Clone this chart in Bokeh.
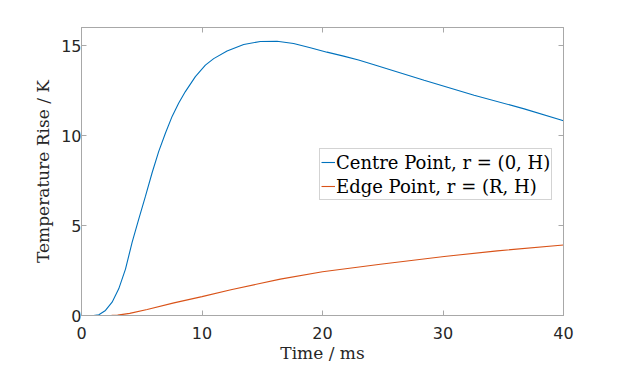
from bokeh.plotting import figure
from bokeh.models import (Range1d, FixedTicker, LinearAxis, CustomJSTickFormatter,
                          Legend, LegendItem)
from bokeh.embed import file_html
from bokeh.resources import INLINE

# ---- data ----
time_centre = [0, 1.0, 1.44, 1.99, 2.54, 3.09, 3.65, 4.20, 4.75, 5.31, 5.86, 6.41, 6.97,
               7.52, 8.07, 8.62, 9.45, 10.28, 10.97, 12.08, 13.46, 14.84, 16.23, 17.6,
               18.99, 20.37, 21.75, 22.99, 24.28, 28.43, 32.58, 36.74, 40]
temp_centre = [0, 0, 0.04, 0.28, 0.74, 1.48, 2.58, 4.06, 5.35, 6.63, 7.93, 9.12, 10.14,
               11.06, 11.80, 12.44, 13.27, 13.91, 14.27, 14.69, 15.06, 15.22, 15.24, 15.11,
               14.87, 14.63, 14.41, 14.19, 13.93, 13.07, 12.24, 11.48, 10.82]

time_edge = [0, 1.5, 2.5, 3.0, 4.0, 5.45, 7.67, 10.0, 12.4, 16.5, 20.0, 24.8, 30.1, 34.5, 40]
temp_edge = [0, 0, 0.005, 0.02, 0.12, 0.33, 0.70, 1.05, 1.43, 2.02, 2.43, 2.85, 3.28, 3.59, 3.92]

x_ticks = [0, 10, 20, 30, 40]
y_ticks = [0, 5, 10, 15]
series_labels = ["Centre Point, r = (0, H)", "Edge Point, r = (R, H)"]
x_label = "Time / ms"
y_label = "Temperature Rise / K"

GREY = "#a8a8a8"
DARK = "#262626"
SERIF = "DejaVu Serif"
SANS = "DejaVu Sans"

p = figure(width=615, height=365, output_backend="svg", toolbar_location=None,
           x_range=Range1d(0, 40), y_range=Range1d(0, 16),
           min_border_left=81, min_border_right=52, min_border_top=27,
           min_border_bottom=49)
p.grid.visible = False
p.outline_line_color = GREY
p.background_fill_color = "white"
p.border_fill_color = "white"

for ax, ticks in ((p.xaxis[0], x_ticks), (p.yaxis[0], y_ticks)):
    ax.ticker = FixedTicker(ticks=ticks)
    ax.major_tick_in = 5
    ax.major_tick_out = 0
    ax.minor_tick_line_color = None
    ax.axis_line_color = GREY
    ax.major_tick_line_color = GREY
    ax.major_label_text_font = SANS
    ax.major_label_text_font_size = "16px"
    ax.major_label_text_color = DARK
    ax.axis_label_text_font = SERIF
    ax.axis_label_text_font_size = "17px"
    ax.axis_label_text_font_style = "normal"
    ax.axis_label_text_color = DARK

p.xaxis[0].axis_label = x_label
p.yaxis[0].axis_label = y_label
p.xaxis[0].major_label_standoff = 11
p.xaxis[0].axis_label_standoff = 1
p.yaxis[0].major_label_standoff = 0
p.yaxis[0].axis_label_standoff = 5

for side, ticks in (("above", x_ticks), ("right", y_ticks)):
    ax = LinearAxis(ticker=FixedTicker(ticks=ticks),
                    formatter=CustomJSTickFormatter(code="return ''"),
                    major_tick_in=5, major_tick_out=0,
                    minor_tick_line_color=None,
                    axis_line_color=GREY, major_tick_line_color=GREY,
                    major_label_standoff=0)
    p.add_layout(ax, side)

r1 = p.line(time_centre, temp_centre, line_color="#0072BD", line_width=1.1)
r2 = p.line(time_edge, temp_edge, line_color="#D95319", line_width=1.1)

legend = Legend(items=[LegendItem(label=series_labels[0], renderers=[r1]),
                       LegendItem(label=series_labels[1], renderers=[r2])],
                location=(238, 115), orientation="vertical",
                border_line_color=GREY, border_line_width=1,
                background_fill_color="white", background_fill_alpha=1,
                padding=1, margin=0, spacing=0,
                glyph_width=14, glyph_height=24, label_height=24,
                label_standoff=1,
                label_text_font=SERIF, label_text_font_size="18px",
                label_text_color="#000000")
p.add_layout(legend, "center")

open("out.html", "w").write(file_html(p, INLINE))
